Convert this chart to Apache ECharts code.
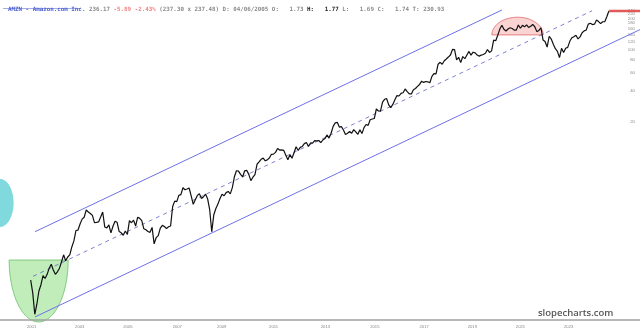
<!DOCTYPE html>
<html>
<head>
<meta charset="utf-8">
<script src="https://cdn.jsdelivr.net/npm/echarts@6/dist/echarts.min.js"></script>
<style>
  html, body { margin: 0; padding: 0; background: #ffffff; }
  #chart { width: 640px; height: 335px; }
</style>
</head>
<body>
<div id="chart"></div>
<script>
// ---- Data (split-adjusted monthly closes) ----
const startYear = 2001;
const startMonth = 7; // July 2001
const p2001 = [0.60, 0.45, 0.28, 0.35, 0.47, 0.54];
const p2002 = [0.66, 0.62, 0.68, 0.78, 0.85, 0.75, 0.68, 0.72, 0.78, 0.90, 1.05, 0.92];
const p2003 = [1.00, 1.05, 1.25, 1.43, 1.80, 1.82, 2.08, 2.32, 2.42, 2.85, 2.72, 2.63];
const p2004 = [2.52, 2.15, 2.16, 2.18, 2.43, 2.72, 1.95, 1.91, 2.04, 1.71, 1.98, 2.21];
const p2005 = [2.16, 1.76, 1.71, 1.62, 1.78, 1.65, 2.24, 2.14, 2.27, 1.99, 2.42, 2.36];
const p2006 = [2.24, 1.87, 1.83, 1.76, 1.73, 1.93, 1.34, 1.54, 1.61, 1.90, 2.02, 1.97];
const p2007 = [1.88, 1.96, 1.99, 3.07, 3.46, 3.42, 3.93, 4.00, 4.66, 4.46, 4.53, 4.63];
const p2008 = [3.89, 3.22, 3.57, 3.93, 4.08, 3.67, 3.82, 4.04, 3.64, 2.86, 1.75, 2.56];
const p2009 = [2.94, 3.24, 3.67, 4.03, 3.90, 4.18, 4.29, 4.06, 4.67, 5.94, 6.80, 6.73];
const p2010 = [6.27, 5.92, 6.79, 6.86, 6.27, 5.46, 5.89, 6.24, 7.85, 8.26, 8.77, 9.00];
const p2011 = [8.48, 8.66, 9.01, 9.79, 9.83, 10.22, 11.13, 10.76, 10.81, 10.68, 9.61, 8.66];
const p2012 = [9.72, 8.98, 10.13, 11.60, 10.65, 11.42, 11.67, 12.41, 12.72, 11.64, 12.60, 12.54];
const p2013 = [13.28, 13.21, 13.32, 12.69, 13.46, 13.88, 15.06, 14.05, 15.63, 18.20, 19.68, 19.94];
const p2014 = [17.93, 18.11, 16.82, 15.21, 15.63, 16.24, 15.65, 16.95, 16.12, 15.27, 16.93, 15.52];
const p2015 = [17.73, 19.01, 18.61, 21.09, 21.46, 21.70, 26.81, 25.64, 25.59, 31.30, 33.24, 33.79];
const p2016 = [29.35, 27.63, 29.68, 32.98, 36.14, 35.78, 37.94, 38.46, 41.87, 39.49, 37.53, 37.49];
const p2017 = [41.17, 42.25, 44.33, 46.25, 49.73, 48.40, 49.39, 49.03, 48.07, 55.26, 58.84, 58.47];
const p2018 = [72.54, 75.62, 72.37, 78.31, 81.48, 84.99, 88.87, 100.64, 100.15, 79.90, 84.51, 75.10];
const p2019 = [85.94, 81.99, 89.04, 96.33, 88.75, 94.68, 93.34, 88.81, 86.80, 88.83, 90.04, 92.39];
const p2020 = [100.44, 94.19, 97.49, 123.70, 122.12, 137.94, 158.23, 172.55, 157.44, 151.81, 158.40, 162.85];
const p2021 = [160.31, 154.65, 154.70, 173.37, 161.15, 172.01, 166.38, 173.54, 164.25, 168.62, 175.35, 166.72];
const p2022 = [149.57, 153.56, 163.00, 124.28, 120.21, 106.21, 134.95, 126.77, 113.00, 102.44, 96.54, 84.00];
const p2023 = [103.13, 94.23, 103.29, 105.45, 120.58, 130.36, 133.68, 138.01, 127.12, 133.09, 146.09, 151.94];
const p2024 = [155.20, 176.76, 180.38, 175.00, 176.44, 193.25, 186.98, 178.50, 186.33, 186.40, 207.89, 236.17];

const lastPrice = 236.17;

// Channel lines (date as decimal year, price)
const upperChannel = [[2001.74, 1.755], [2020.65, 242]];
const middleChannel = [[2001.66, 0.651], [2024.30, 237.7]];
const lowerChannel = [[2001.74, 0.264], [2026.24, 156.5]];

// Annotation shapes: [left date, right date, price A, price B]
const greenCup = [2000.69, 2003.08, 0.935, 0.236];   // top price, bottom price
const redDome = [2020.24, 2022.32, 139, 206];        // base price, top price
const cyanArc = [2000.32, 2000.87, 5.66, 1.95];      // top price, bottom price

// Axis ticks
const xTickPos = [2001.6, 2003.55, 2005.5, 2007.5, 2009.3, 2011.4, 2013.5, 2015.5, 2017.5, 2019.45, 2021.4, 2023.35];
const xTickLabels = ['2001', '2003', '2005', '2007', '2009', '2011', '2013', '2015', '2017', '2019', '2021', '2023'];
const yTickVals = [20, 40, 60, 80, 100, 120, 140, 160, 180, 200, 220, 240];

const xMin = 2000.32, xMax = 2026.24;
const yMin = 0.2466, yMax = 302;

// ---- Build series data ----
const allYears = [p2001, p2002, p2003, p2004, p2005, p2006, p2007, p2008, p2009, p2010, p2011, p2012,
  p2013, p2014, p2015, p2016, p2017, p2018, p2019, p2020, p2021, p2022, p2023, p2024];
const priceData = [];
allYears.forEach((arr, yi) => {
  const year = startYear + yi;
  const m0 = yi === 0 ? startMonth : 1;
  arr.forEach((v, i) => {
    const month = m0 + i;
    priceData.push([year + (month - 0.25) / 12, v]);
  });
});
const lastDate = priceData[priceData.length - 1][0];

function halfEllipseSeries(shape, kind, fill, stroke) {
  return {
    type: 'custom',
    silent: true,
    clip: false,
    z: kind === 'dome' ? 1 : 0,
    data: [shape],
    encode: { x: [0, 1], y: [2, 3] },
    renderItem: function (params, api) {
      const a = api.coord([api.value(0), api.value(2)]);
      const b = api.coord([api.value(1), api.value(3)]);
      const pts = [];
      const N = 60;
      if (kind === 'cup') {
        const cx = (a[0] + b[0]) / 2, rx = (b[0] - a[0]) / 2, cy = a[1], ry = b[1] - a[1];
        for (let i = 0; i <= N; i++) { const t = Math.PI * i / N; pts.push([cx + rx * Math.cos(t), cy + ry * Math.sin(t)]); }
      } else if (kind === 'dome') {
        const cx = (a[0] + b[0]) / 2, rx = (b[0] - a[0]) / 2, cy = a[1], ry = a[1] - b[1];
        for (let i = 0; i <= N; i++) { const t = Math.PI * i / N; pts.push([cx + rx * Math.cos(t), cy - ry * Math.sin(t)]); }
      } else {
        const cx = a[0], rx = b[0] - a[0], cy = (a[1] + b[1]) / 2, ry = (b[1] - a[1]) / 2;
        for (let i = 0; i <= N; i++) { const t = -Math.PI / 2 + Math.PI * i / N; pts.push([cx + rx * Math.cos(t), cy + ry * Math.sin(t)]); }
      }
      return { type: 'polygon', shape: { points: pts }, style: { fill: fill, stroke: stroke, lineWidth: 0.8 } };
    }
  };
}

const chart = echarts.init(document.getElementById('chart'), null, { renderer: 'canvas' });

chart.setOption({
  animation: false,
  backgroundColor: '#ffffff',
  title: {
    left: 3, top: 1,
    text: '{n|AMZN - Amazon.com Inc.} {g|236.17} {r|-5.89 -2.43%} {g|(237.30 x 237.48) D: 04/06/2005 O:   1.73} {b|H:   1.77} {g|L:   1.69 C:   1.74 T: 230.93}',
    textStyle: {
      fontFamily: 'DejaVu Sans Mono', fontSize: 5.85,
      rich: {
        n: { color: '#4b5fd0', fontFamily: 'DejaVu Sans Mono', fontSize: 5.85 },
        g: { color: '#8a8a8a', fontFamily: 'DejaVu Sans Mono', fontSize: 5.85 },
        r: { color: '#f08080', fontFamily: 'DejaVu Sans Mono', fontSize: 5.85 },
        b: { color: '#222222', fontFamily: 'DejaVu Sans Mono', fontSize: 5.85, fontWeight: 'bold' }
      }
    }
  },
  graphic: [
    { type: 'rect', left: 3, top: 8, shape: { width: 78, height: 0.6 }, style: { fill: '#4b5fd0' }, silent: true },
    { type: 'text', left: 538, top: 308, style: { text: 'slopecharts.com', fill: '#555555', font: '600 9.5px "Open Sans"' }, silent: true }
  ],
  grid: { left: 0, right: 0, top: 0, bottom: 15 },
  xAxis: {
    type: 'value', min: xMin, max: xMax,
    splitLine: { show: false },
    axisTick: { show: false },
    axisLine: { show: true, lineStyle: { color: '#a0a0a0', width: 1.5 } },
    axisLabel: {
      customValues: xTickPos,
      fontSize: 4.2, color: '#888888', margin: 5,
      formatter: function (v) {
        let best = 0, d = Infinity;
        xTickPos.forEach((p, i) => { if (Math.abs(p - v) < d) { d = Math.abs(p - v); best = i; } });
        return xTickLabels[best];
      }
    }
  },
  yAxis: {
    type: 'log', logBase: 10, min: yMin, max: yMax, position: 'right',
    splitLine: { show: false },
    axisTick: { show: false },
    axisLine: { show: false },
    axisLabel: { inside: true, customValues: yTickVals, fontSize: 4.3, color: '#888888', margin: 5 }
  },
  series: [
    halfEllipseSeries(cyanArc, 'right', '#7fd9dd', 'rgba(0,0,0,0)'),
    halfEllipseSeries(greenCup, 'cup', 'rgba(150,225,140,0.6)', '#6cbf6c'),
    halfEllipseSeries(redDome, 'dome', 'rgba(240,130,130,0.35)', '#e06666'),
    { type: 'line', data: upperChannel, showSymbol: false, silent: true, lineStyle: { color: '#7070e8', width: 1 }, z: 2 },
    { type: 'line', data: lowerChannel, showSymbol: false, silent: true, lineStyle: { color: '#7070e8', width: 1 }, z: 2 },
    { type: 'line', data: middleChannel, showSymbol: false, silent: true, lineStyle: { color: '#6060c0', width: 0.8, type: [4, 4] }, z: 2 },
    { type: 'line', data: priceData, showSymbol: false, silent: true, lineStyle: { color: '#111111', width: 1.2 }, z: 3 },
    { type: 'line', data: [[lastDate, lastPrice], [xMax, lastPrice]], showSymbol: false, silent: true, lineStyle: { color: '#e05a5a', width: 2.5 }, z: 4 }
  ]
});
</script>
</body>
</html>
